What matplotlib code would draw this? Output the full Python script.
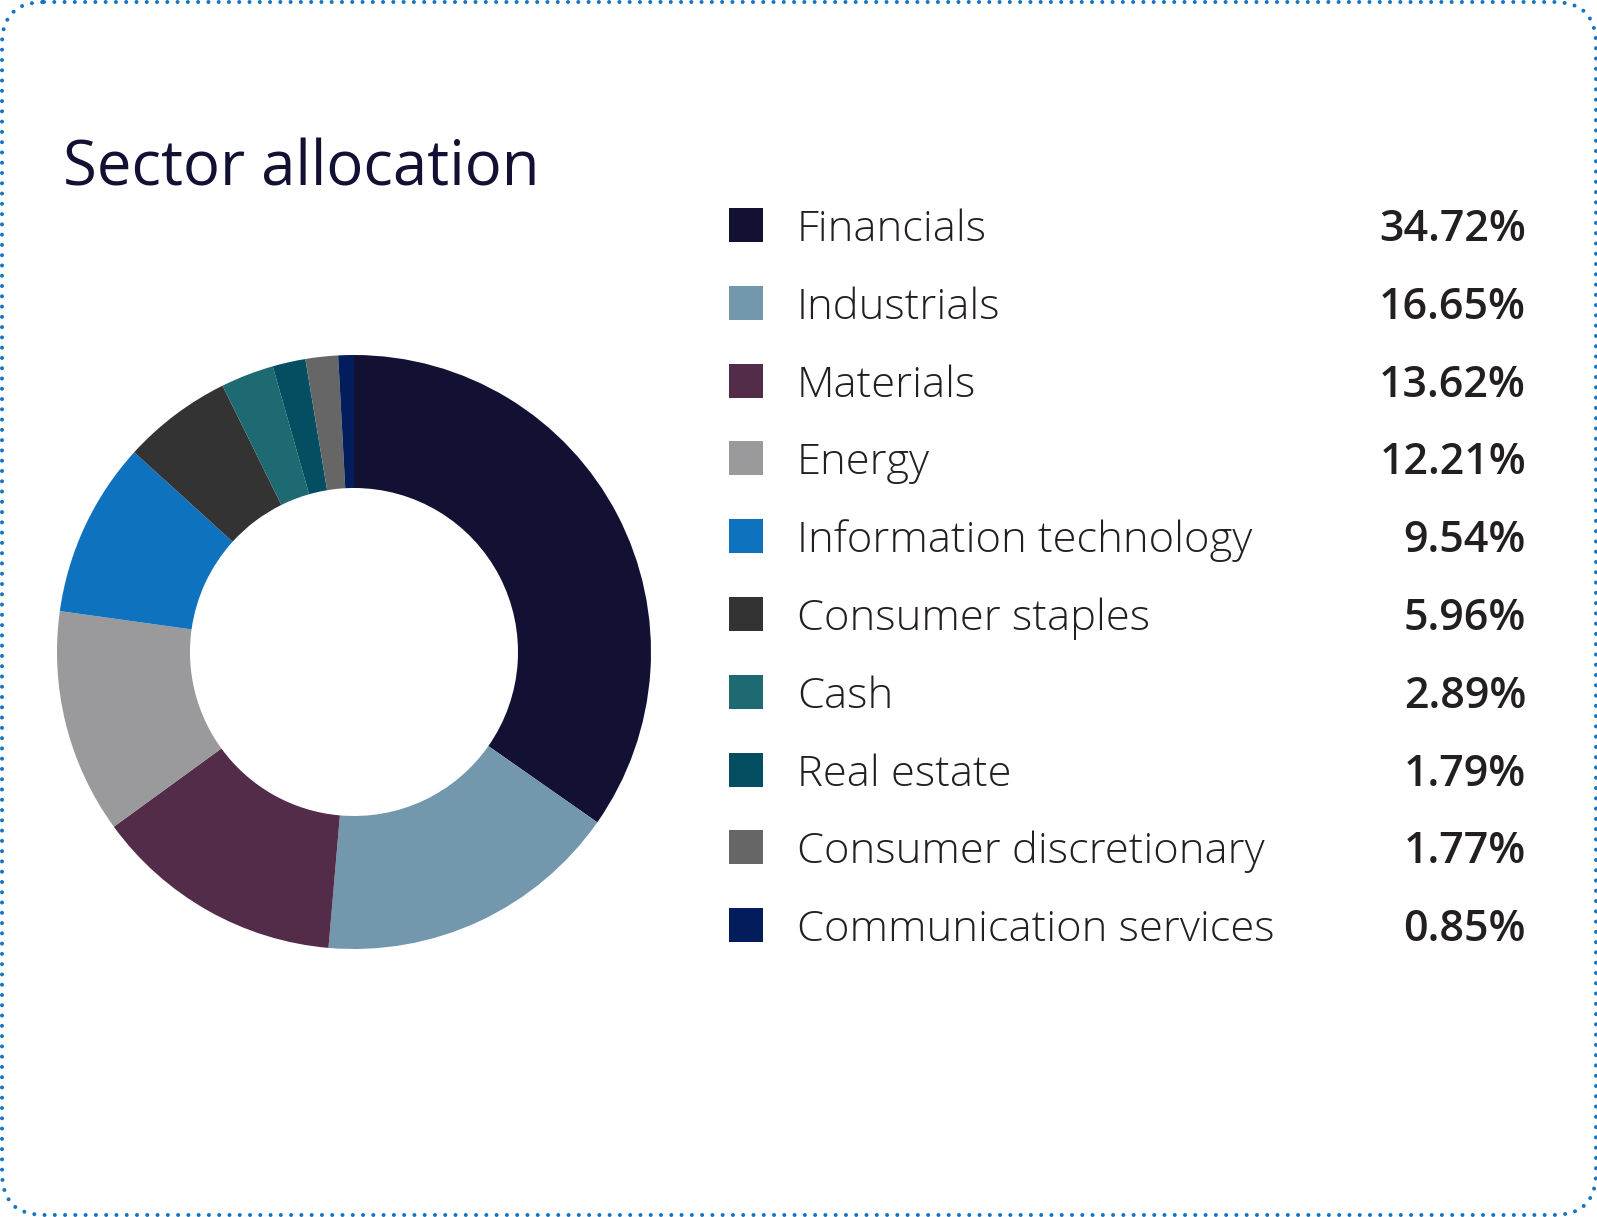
import matplotlib
matplotlib.use("Agg")
import matplotlib.pyplot as plt
from matplotlib.patches import FancyBboxPatch, Rectangle

# Sector allocation data
sectors = [
    "Financials", "Industrials", "Materials", "Energy",
    "Information technology", "Consumer staples", "Cash",
    "Real estate", "Consumer discretionary", "Communication services",
]
weights = [34.72, 16.65, 13.62, 12.21, 9.54, 5.96, 2.89, 1.79, 1.77, 0.85]
colors = [
    "#121133", "#7397AD", "#522C48", "#9A9A9C", "#0E72BE",
    "#333333", "#1E6A73", "#034E60", "#666666", "#021C5C",
]
title = "Sector allocation"

W, H = 1597, 1217
fig = plt.figure(figsize=(W / 100, H / 100), dpi=100)
fig.patch.set_facecolor("white")

# overlay axes in pixel coordinates (y down)
bg = fig.add_axes([0, 0, 1, 1])
bg.set_xlim(0, W)
bg.set_ylim(H, 0)
bg.axis("off")

# dotted rounded border
border = FancyBboxPatch((2, 2), 1594, 1213,
                        boxstyle="round,pad=0,rounding_size=42",
                        facecolor="none", edgecolor="#1473C2",
                        linewidth=2.9, linestyle=(0, (0.001, 2.55)),
                        capstyle="round")
bg.add_patch(border)

bg.text(63, 186, title, fontsize=44.4, family="Open Sans", color="#121133",
        ha="left", va="baseline")

# donut
cx, cy, R = 354, 652, 297
pie_ax = fig.add_axes([(cx - R) / W, (H - cy - R) / H, 2 * R / W, 2 * R / H])
pie_ax.pie(weights, colors=colors, startangle=90, counterclock=False,
           radius=1, wedgeprops=dict(width=133 / 297, linewidth=0))
pie_ax.set_xlim(-1, 1)
pie_ax.set_ylim(-1, 1)
pie_ax.axis("off")

# legend rows
row0, step = 225, 77.8
for i, (name, val, col) in enumerate(zip(sectors, weights, colors)):
    yc = row0 + i * step
    bg.add_patch(Rectangle((729, yc - 17), 34, 34, facecolor=col,
                           edgecolor="none"))
    bg.text(797, yc + 16, name, fontsize=31.3, family="Open Sans",
            weight="light", color="#231F20", ha="left", va="baseline")
    bg.text(1526, yc + 16, f"{val:.2f}%", fontsize=31, family="Open Sans",
            weight="semibold", color="#231F20", ha="right", va="baseline")

fig.savefig("out.png", dpi=100, facecolor="white")
